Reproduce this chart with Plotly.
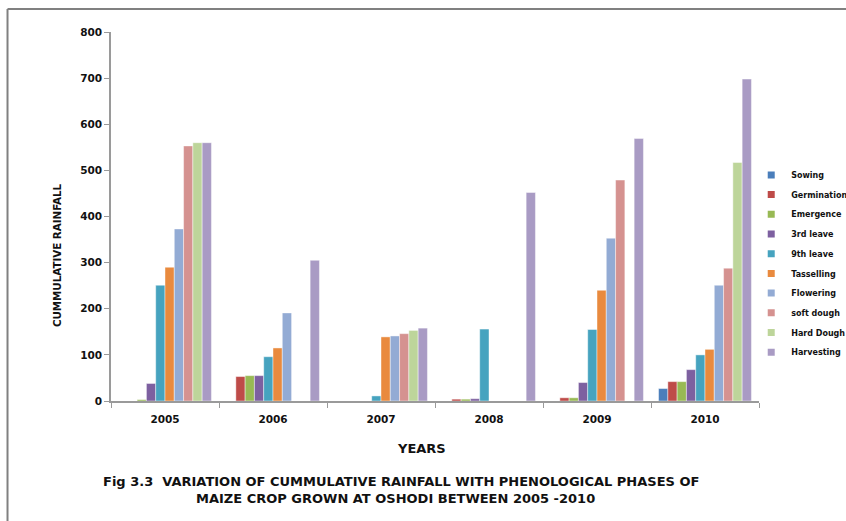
import plotly.graph_objects as go

# Years on the category axis
years = ["2005", "2006", "2007", "2008", "2009", "2010"]

# Phenological phases (one bar series each)
phases = ["Sowing", "Germination", "Emergence", "3rd leave", "9th leave",
          "Tasselling", "Flowering", "soft dough", "Hard Dough", "Harvesting"]

# Cumulative rainfall (mm) reached at each phase, per year
sowing      = [0,   0,   0,   0,   0,   27]
germination = [0,   53,  0,   4,   7,   42]
emergence   = [3,   55,  0,   4,   7,   42]
leave_3rd   = [38,  55,  0,   5,   40,  68]
leave_9th   = [251, 96,  11,  156, 155, 100]
tasselling  = [290, 115, 139, 0,   240, 112]
flowering   = [373, 191, 141, 0,   353, 251]
soft_dough  = [553, 0,   146, 0,   479, 288]
hard_dough  = [560, 0,   153, 0,   0,   517]
harvesting  = [560, 305, 158, 452, 569, 698]

series = [sowing, germination, emergence, leave_3rd, leave_9th,
          tasselling, flowering, soft_dough, hard_dough, harvesting]

colors = ["#4A7EBB", "#BE4B48", "#98B954", "#7D60A0", "#46A3BF",
          "#E98A3E", "#93ABD4", "#D59290", "#BDD59A", "#A99BC4"]

FONT = "DejaVu Sans"

fig = go.Figure()
for name, vals, col in zip(phases, series, colors):
    fig.add_trace(go.Bar(
        x=years, y=vals, name=name, showlegend=False,
        marker=dict(color=col, line=dict(color="rgba(255,255,255,0.55)", width=0.8)),
    ))
# small square swatches for the legend
for i, (name, col) in enumerate(zip(phases, colors)):
    fig.add_trace(go.Scatter(
        x=[None], y=[None], mode="markers", name=name, legendgroup=f"g{i}",
        marker=dict(symbol="square", size=7, color=col),
    ))

axis_col = "#9a9a9a"

fig.update_layout(
    width=846, height=521,
    margin=dict(l=111, r=87, t=32, b=120, autoexpand=False),
    paper_bgcolor="white", plot_bgcolor="white",
    barmode="group", bargap=0.14, bargroupgap=0,
    font=dict(family=FONT, color="#111111"),
    legend=dict(
        x=0.988, xanchor="left", y=0.652, yanchor="top",
        font=dict(family=FONT, size=8, weight="bold"),
        itemwidth=30, tracegroupgap=0.7, bgcolor="rgba(0,0,0,0)",
    ),
    xaxis=dict(
        type="category", showline=True, linecolor=axis_col, linewidth=1.5,
        ticks="outside", tickson="boundaries", ticklen=5, tickcolor=axis_col,
        tickfont=dict(family=FONT, size=10.5, weight="bold"),
        showgrid=False, zeroline=False, ticklabelstandoff=8,
    ),
    yaxis=dict(
        range=[0, 800], dtick=100, showline=True, linecolor=axis_col, linewidth=1.5,
        ticks="outside", ticklen=5, tickcolor=axis_col,
        tickfont=dict(family=FONT, size=10.5, weight="bold"),
        showgrid=False, zeroline=False,
    ),
)

# axis titles and figure caption
fig.add_annotation(text="YEARS", xref="paper", yref="paper", x=0.479, y=-0.128,
                   showarrow=False, xanchor="center", yanchor="middle",
                   font=dict(family=FONT, size=13, weight="bold"))
fig.add_annotation(text="CUMMULATIVE RAINFALL", xref="paper", yref="paper",
                   x=-0.083, y=0.396, textangle=-90, showarrow=False,
                   xanchor="center", yanchor="middle",
                   font=dict(family=FONT, size=10.3, weight="bold"))
fig.add_annotation(text="Fig 3.3  VARIATION OF CUMMULATIVE RAINFALL WITH PHENOLOGICAL PHASES OF",
                   xref="paper", yref="paper", x=0.4475, y=-0.218, showarrow=False,
                   xanchor="center", yanchor="middle",
                   font=dict(family=FONT, size=13, weight="bold"))
fig.add_annotation(text="MAIZE CROP GROWN AT OSHODI BETWEEN 2005 -2010",
                   xref="paper", yref="paper", x=0.439, y=-0.263, showarrow=False,
                   xanchor="center", yanchor="middle",
                   font=dict(family=FONT, size=13, weight="bold"))

# frame around the figure (top and left edges)
frame_col = "#808080"
fig.add_shape(type="line", xref="paper", yref="paper", x0=-0.1597, x1=1.25,
              y0=1.0623, y1=1.0623, line=dict(color=frame_col, width=2))
fig.add_shape(type="line", xref="paper", yref="paper", x0=-0.1597, x1=-0.1597,
              y0=-0.45, y1=1.0623, line=dict(color=frame_col, width=2))

fig.write_html("out.html")
